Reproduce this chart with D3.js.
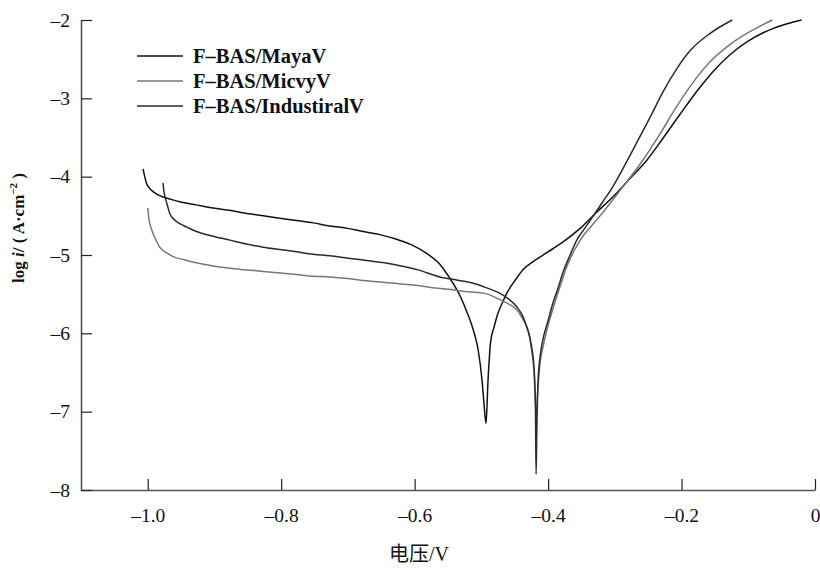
<!DOCTYPE html>
<html>
<head>
<meta charset="utf-8">
<script src="https://cdn.jsdelivr.net/npm/d3@7"></script>
<style>
  body { margin: 0; background: #fff; }
  text { font-family: "Liberation Serif", "Noto Sans CJK SC", serif; }
</style>
</head>
<body>
<div id="chart"></div>
<script>
var svgWidth = 820;
var svgHeight = 570;

var margin = { top: 20, right: 5, bottom: 80, left: 81 };
var width = svgWidth - margin.left - margin.right;
var height = svgHeight - margin.top - margin.bottom;

// data (potential V, log i)
var seriesNames = ["F\u2013BAS/MayaV", "F\u2013BAS/MicvyV", "F\u2013BAS/IndustiralV"];

var mayaV = [-1.007, -1.005, -1.002, -0.997, -0.992, -0.985, -0.977, -0.965, -0.952, -0.927, -0.902, -0.877, -0.851, -0.827, -0.802, -0.777, -0.752, -0.727, -0.700, -0.677, -0.652, -0.627, -0.602, -0.582, -0.562, -0.547, -0.532, -0.522, -0.512, -0.505, -0.499, -0.496, -0.493, -0.490, -0.486, -0.481, -0.475, -0.468, -0.462, -0.450, -0.438, -0.420, -0.402, -0.377, -0.352, -0.328, -0.303, -0.278, -0.252, -0.227, -0.202, -0.177, -0.152, -0.127, -0.102, -0.077, -0.050, -0.020];
var mayaI = [-3.90, -3.98, -4.08, -4.15, -4.19, -4.23, -4.26, -4.29, -4.32, -4.36, -4.40, -4.43, -4.47, -4.50, -4.53, -4.56, -4.59, -4.63, -4.66, -4.70, -4.74, -4.80, -4.88, -4.98, -5.12, -5.30, -5.52, -5.72, -5.96, -6.20, -6.60, -6.90, -7.15, -6.60, -6.10, -5.92, -5.74, -5.60, -5.49, -5.33, -5.19, -5.07, -4.97, -4.83, -4.66, -4.46, -4.26, -4.03, -3.79, -3.50, -3.20, -2.91, -2.65, -2.44, -2.28, -2.16, -2.07, -2.00];

var micvyV = [-1.000, -0.998, -0.994, -0.988, -0.982, -0.972, -0.962, -0.945, -0.927, -0.902, -0.877, -0.852, -0.827, -0.802, -0.777, -0.752, -0.727, -0.700, -0.672, -0.645, -0.620, -0.595, -0.570, -0.545, -0.520, -0.495, -0.472, -0.458, -0.447, -0.438, -0.430, -0.425, -0.421, -0.418, -0.416, -0.412, -0.407, -0.402, -0.395, -0.387, -0.380, -0.372, -0.360, -0.348, -0.335, -0.322, -0.288, -0.258, -0.232, -0.207, -0.183, -0.158, -0.133, -0.108, -0.085, -0.064];
var micvyI = [-4.40, -4.55, -4.68, -4.80, -4.90, -4.97, -5.02, -5.06, -5.10, -5.14, -5.17, -5.19, -5.21, -5.23, -5.25, -5.27, -5.28, -5.30, -5.33, -5.35, -5.37, -5.39, -5.42, -5.44, -5.47, -5.49, -5.57, -5.63, -5.70, -5.82, -5.96, -6.20, -6.50, -7.05, -6.80, -6.38, -6.15, -5.96, -5.75, -5.53, -5.35, -5.15, -4.93, -4.76, -4.63, -4.50, -4.13, -3.79, -3.45, -3.10, -2.80, -2.54, -2.35, -2.20, -2.09, -2.00];

var industV = [-0.977, -0.976, -0.974, -0.970, -0.967, -0.960, -0.952, -0.940, -0.927, -0.902, -0.877, -0.852, -0.827, -0.802, -0.777, -0.752, -0.727, -0.700, -0.672, -0.645, -0.620, -0.595, -0.562, -0.537, -0.512, -0.492, -0.472, -0.458, -0.447, -0.438, -0.432, -0.427, -0.424, -0.421, -0.419, -0.418, -0.417, -0.415, -0.412, -0.408, -0.400, -0.393, -0.385, -0.378, -0.367, -0.357, -0.345, -0.333, -0.318, -0.303, -0.288, -0.273, -0.260, -0.247, -0.228, -0.207, -0.187, -0.157, -0.124];
var industI = [-4.08, -4.17, -4.26, -4.38, -4.47, -4.55, -4.60, -4.65, -4.70, -4.76, -4.81, -4.86, -4.90, -4.93, -4.96, -4.99, -5.01, -5.04, -5.07, -5.10, -5.14, -5.19, -5.28, -5.32, -5.36, -5.42, -5.49, -5.57, -5.66, -5.78, -5.92, -6.06, -6.21, -6.45, -6.90, -7.80, -7.30, -6.60, -6.30, -6.09, -5.84, -5.62, -5.42, -5.23, -5.00, -4.81, -4.66, -4.51, -4.32, -4.13, -3.90, -3.66, -3.45, -3.24, -2.92, -2.62, -2.39, -2.17, -2.00];

var xTicks = [-1.0, -0.8, -0.6, -0.4, -0.2, 0];
var xTickLabels = ["\u20131.0", "\u20130.8", "\u20130.6", "\u20130.4", "\u20130.2", "0"];
var yTicks = [-2, -3, -4, -5, -6, -7, -8];
var yTickLabels = ["\u20132", "\u20133", "\u20134", "\u20135", "\u20136", "\u20137", "\u20138"];

var lineColors = ["#111", "#777", "#2b2b2b"];

var series = [
  { name: seriesNames[0], v: mayaV, i: mayaI, color: lineColors[0] },
  { name: seriesNames[1], v: micvyV, i: micvyI, color: lineColors[1] },
  { name: seriesNames[2], v: industV, i: industI, color: lineColors[2] }
];

var svg = d3.select("#chart")
  .append("svg")
  .attr("width", svgWidth)
  .attr("height", svgHeight);

var chartGroup = svg.append("g")
  .attr("transform", `translate(${margin.left}, ${margin.top})`);

// scales
var xScale = d3.scaleLinear().domain([-1.1, 0]).range([0, width]);
var yScale = d3.scaleLinear().domain([-8, -2]).range([height, 0]);

// axes, ticks point inwards
var bottomAxis = d3.axisBottom(xScale)
  .tickValues(xTicks)
  .tickFormat((d, k) => xTickLabels[k])
  .tickSizeInner(-11)
  .tickSizeOuter(0)
  .tickPadding(18);

var leftAxis = d3.axisLeft(yScale)
  .tickValues(yTicks)
  .tickFormat((d, k) => yTickLabels[k])
  .tickSizeInner(-11)
  .tickSizeOuter(0)
  .tickPadding(11);

var xAxisG = chartGroup.append("g")
  .attr("transform", `translate(0, ${height})`)
  .call(bottomAxis);

var yAxisG = chartGroup.append("g")
  .call(leftAxis);

[xAxisG, yAxisG].forEach(function(g) {
  g.select(".domain").attr("stroke", "#555").attr("stroke-width", 1.6);
  g.selectAll(".tick line").attr("stroke", "#222").attr("stroke-width", 1.2);
  g.selectAll(".tick text")
    .attr("fill", "#111")
    .attr("font-size", "19.5px")
    .style("font-family", "'Liberation Serif', serif");
});

// curves
var line = d3.line()
  .x(d => xScale(d[0]))
  .y(d => yScale(d[1]))
  .curve(d3.curveMonotoneX);

series.forEach(function(s) {
  var pts = s.v.map((v, k) => [v, s.i[k]]);
  chartGroup.append("path")
    .datum(pts)
    .attr("fill", "none")
    .attr("stroke", s.color)
    .attr("stroke-width", 1.5)
    .attr("d", line);
});

// legend
var legend = svg.append("g").attr("transform", "translate(137, 56)");
series.forEach(function(s, k) {
  var row = legend.append("g").attr("transform", `translate(0, ${k * 25})`);
  row.append("line")
    .attr("x1", 0).attr("x2", 46)
    .attr("y1", 0).attr("y2", 0)
    .attr("stroke", s.color)
    .attr("stroke-width", 1.5);
  row.append("text")
    .attr("x", 56)
    .attr("y", 7)
    .attr("font-size", "20.5px")
    .attr("font-weight", "bold")
    .attr("fill", "#111")
    .text(s.name);
});

// y label
var yLabel = svg.append("text")
  .attr("transform", "translate(24, 228) rotate(-90)")
  .attr("text-anchor", "middle")
  .attr("font-size", "17px")
  .attr("font-weight", "bold")
  .attr("fill", "#111");
yLabel.append("tspan").text("log ");
yLabel.append("tspan").attr("font-style", "italic").text("i");
yLabel.append("tspan").text("/ ( A\u00b7cm");
yLabel.append("tspan").attr("font-size", "11px").attr("dy", "-7").text("\u22122");
yLabel.append("tspan").attr("dy", "7").text(" )");

// x label
svg.append("text")
  .attr("x", 419)
  .attr("y", 561)
  .attr("text-anchor", "middle")
  .attr("font-size", "20px")
  .attr("fill", "#111")
  .text("电压/V");
</script>
</body>
</html>
